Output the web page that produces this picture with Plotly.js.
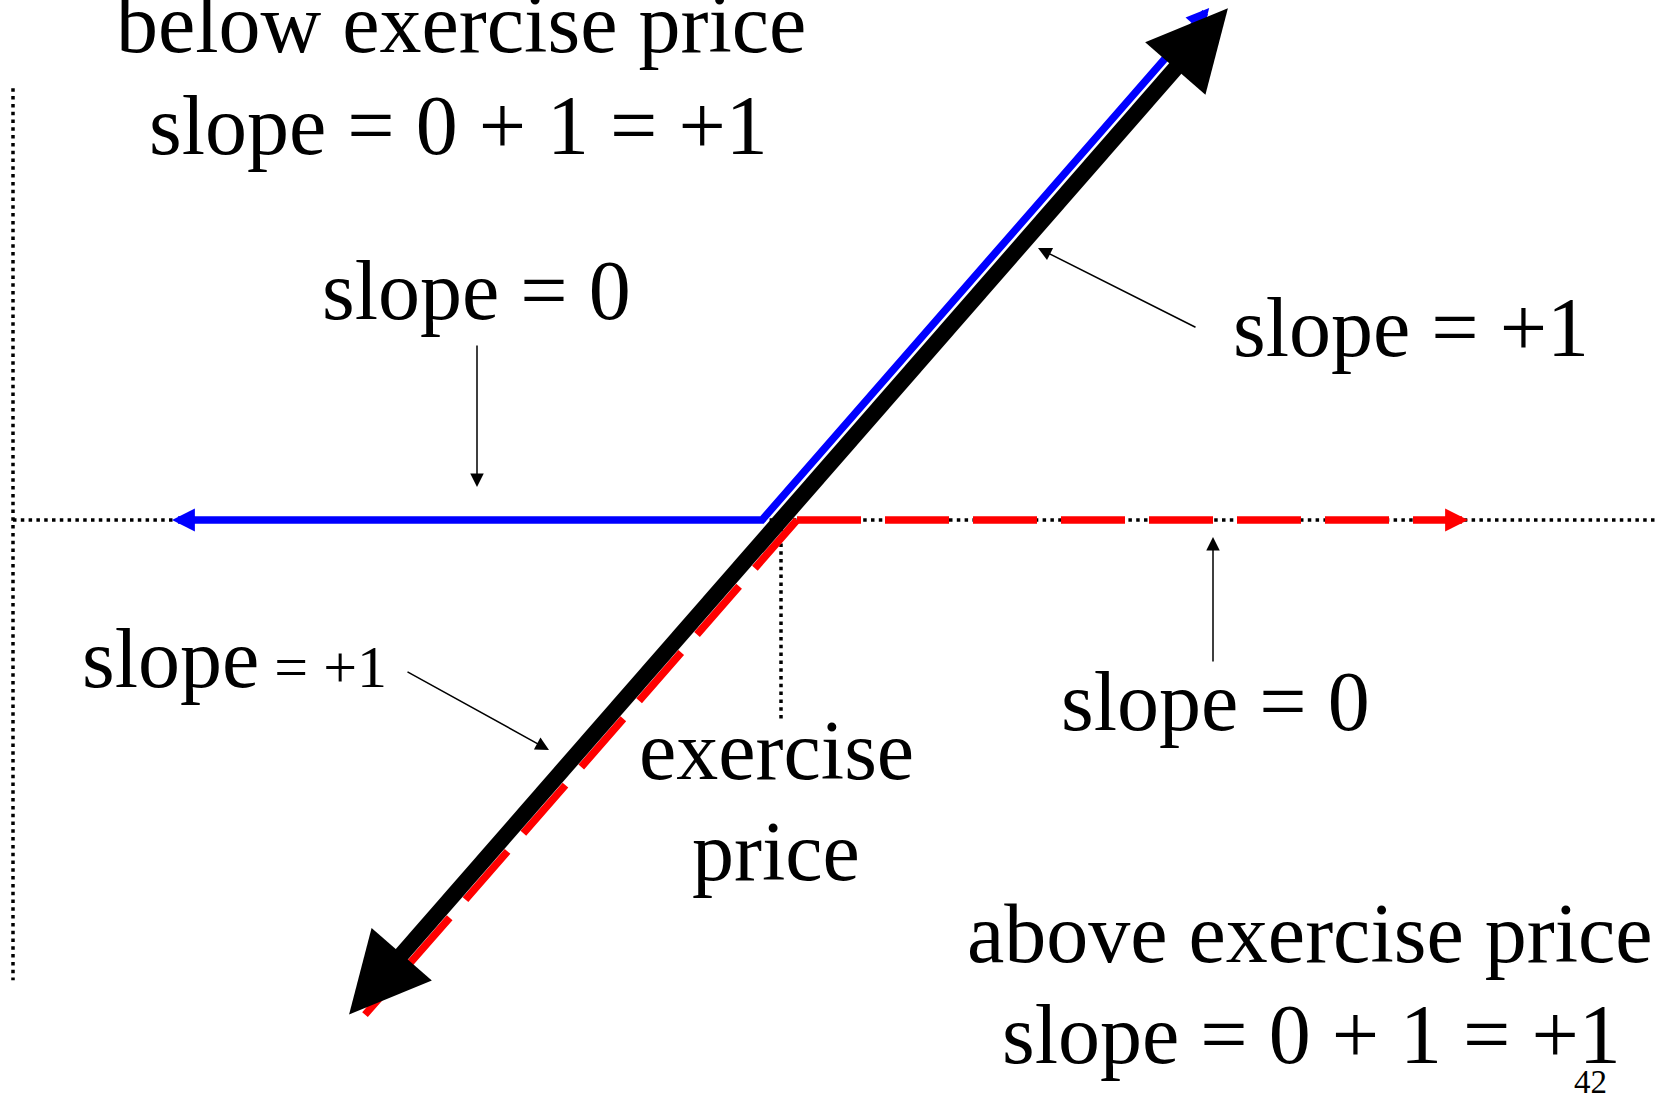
<!DOCTYPE html>
<html><head><meta charset="utf-8">
<script src="https://cdn.plot.ly/plotly-3.0.1.min.js"></script>
<style>html,body{margin:0;padding:0;background:#fff;overflow:hidden}#chart{width:1671px;height:1094px}</style>
</head><body><div id="chart"></div>
<script>
// ---------- data: stock price S (x) and payoff (y); exercise price K = 100 ----------
const exercisePrice = 100;
// long call (blue), drawn just left of K so it stays visible
const callX = [40.5, 98.1, 141.9];
const callY = [0, 0, 43.8];
// short put (red, dashed), drawn just right of K
const putX = [58.4, 101.6, 167.3];
const putY = [-43.2, 0, 0];
// combined position (black): slope +1 everywhere
const comboX = [59.9, 141.6];
const comboY = [-40.1, 41.6];
// diagram axes and exercise-price drop line
const priceAxisX = [23.2, 187.7];
const priceAxisY = [0, 0];
const payoffAxisX = [23.2, 23.2];
const payoffAxisY = [37.7, -40.2];
const strikeDropX = [exercisePrice, exercisePrice];
const strikeDropY = [0, -17.5];

// text labels
const labels = {
  belowTitle: 'below exercise price',
  belowSlope: 'slope = 0 + 1 = +1',
  callFlat: 'slope = 0',
  callRise: 'slope = +1',
  putRiseBig: 'slope',
  putRiseSmall: ' = +1',
  strike1: 'exercise',
  strike2: 'price',
  putFlat: 'slope = 0',
  aboveTitle: 'above exercise price',
  aboveSlope: 'slope = 0 + 1 = +1',
  page: '42'
};

// ---------- layout geometry ----------
const W = 1671, H = 1094;
const xRange = [21.9, 189.0];
const yRange = [-50.13, 45.41];
const sx = W / (xRange[1] - xRange[0]);
const sy = H / (yRange[1] - yRange[0]);
const FONT = 'Liberation Serif, Times New Roman, Times, serif';

const dotted = {color: '#000', width: 3.5, dash: '3.5px,4.3px'};
function tr(x, y, line) {
  return {type: 'scatter', mode: 'lines', x, y, line, hoverinfo: 'skip', showlegend: false};
}

const data = [
  tr(priceAxisX, priceAxisY, dotted),
  tr(payoffAxisX, payoffAxisY, dotted),
  tr(strikeDropX, strikeDropY, dotted),
  tr(callX, callY, {color: '#0000ff', width: 7.5}),
  tr([putX[1], putX[0]], [putY[1], putY[0]], {color: '#ff0000', width: 7.5, dash: '64px,24px'}),
  tr([putX[1], putX[2]], [putY[1], putY[2]], {color: '#ff0000', width: 7.5, dash: '64px,24px'}),
  tr(comboX, comboY, {color: '#000', width: 16})
];

function head(xs, ys, atStart, color, width, size, extPx) {
  const i1 = atStart ? 0 : xs.length - 1;
  const i0 = atStart ? 1 : xs.length - 2;
  const dxp = (xs[i1] - xs[i0]) * sx, dyp = (ys[i1] - ys[i0]) * sy;
  const L = Math.hypot(dxp, dyp), ux = dxp / L, uy = dyp / L;
  return {
    xref: 'x', yref: 'y', axref: 'x', ayref: 'y',
    x: xs[i1] + ux * extPx / sx, y: ys[i1] + uy * extPx / sy,
    ax: xs[i1] - ux * 10 / sx, ay: ys[i1] - uy * 10 / sy,
    text: '', showarrow: true, arrowhead: 2, arrowsize: size, arrowwidth: width, arrowcolor: color
  };
}
function label(text, cx, baseline, size) {
  return {
    xref: 'paper', yref: 'paper', x: cx / W, y: 1 - (baseline - 0.3375 * size) / H,
    xanchor: 'center', yanchor: 'middle', text, showarrow: false,
    font: {family: FONT, size, color: '#000'}
  };
}
function callout(tail, tip) {
  return {
    xref: 'paper', yref: 'paper', x: tip[0] / W, y: 1 - tip[1] / H,
    axref: 'pixel', ayref: 'pixel', ax: tail[0] - tip[0], ay: tail[1] - tip[1],
    text: '', showarrow: true, arrowhead: 2, arrowsize: 1.8, arrowwidth: 1.5, arrowcolor: '#000'
  };
}

const annotations = [
  head(callX, callY, true, '#0000ff', 7.5, 0.61, 14),
  head(callX, callY, false, '#0000ff', 7.5, 0.61, 14),
  head(putX, putY, false, '#ff0000', 7.5, 0.61, 14),
  head(comboX, comboY, true, '#000', 16, 1.0, 47),
  head(comboX, comboY, false, '#000', 16, 1.0, 47),
  label(labels.belowTitle, 461, 52, 84),
  label(labels.belowSlope, 458, 154, 84),
  label(labels.callFlat, 476, 319, 84),
  label(labels.callRise, 1411, 356, 84),
  label(labels.putRiseBig + '<span style="font-size:60px">' + labels.putRiseSmall + '</span>', 234, 687, 84),
  label(labels.strike1, 776, 779, 84),
  label(labels.strike2, 776, 880, 84),
  label(labels.putFlat, 1215, 730, 84),
  label(labels.aboveTitle, 1310, 962, 84),
  label(labels.aboveSlope, 1311, 1063, 84),
  label(labels.page, 1590, 1093, 33),
  callout([477, 344], [477, 487]),
  callout([1197, 328], [1038, 248]),
  callout([406, 671], [549, 750]),
  callout([1213, 663], [1213, 537])
];

const layout = {
  width: W, height: H, margin: {l: 0, r: 0, t: 0, b: 0, pad: 0},
  paper_bgcolor: '#fff', plot_bgcolor: '#fff', showlegend: false,
  xaxis: {range: xRange, visible: false, fixedrange: true},
  yaxis: {range: yRange, visible: false, fixedrange: true},
  annotations
};
Plotly.newPlot('chart', data, layout, {displayModeBar: false, staticPlot: true});
</script>
</body></html>
